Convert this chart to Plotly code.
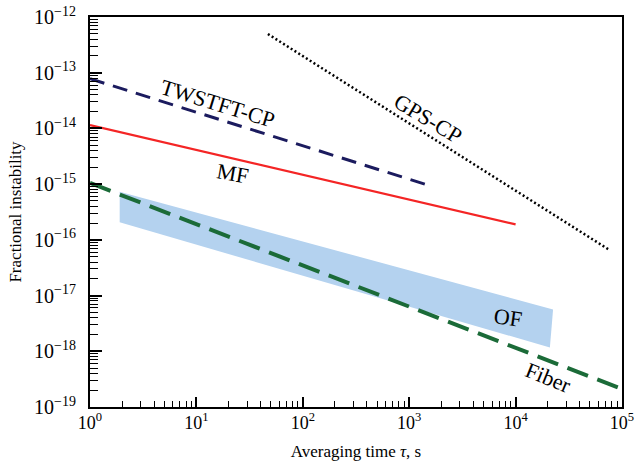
import plotly.graph_objects as go

# ---- data ----
mf_tau = [1, 1e4]
mf_sigma = [1.15e-14, 1.9e-16]

twstft_tau = [1, 1.5e3]
twstft_sigma = [7.8e-14, 9.6e-16]

gps_tau = [47, 7.6e4]
gps_sigma = [4.95e-13, 6.6e-17]

fiber_tau = [1, 1e5]
fiber_sigma = [1.05e-15, 2.1e-19]

of_tau = [1.9, 2.25e4, 2.1e4, 1.9]
of_sigma = [7.3e-16, 5.65e-18, 1.17e-18, 2.06e-16]

x_exponents = [0, 1, 2, 3, 4, 5]
y_exponents = [-19, -18, -17, -16, -15, -14, -13, -12]

label_text = ["TWSTFT-CP", "MF", "GPS-CP", "OF", "Fiber"]
label_logx = [1.203, 1.344, 3.177, 3.929, 4.305]
label_logy = [-13.544, -14.80, -13.813, -17.386, -18.463]
label_angle = [17, 10, 31, 8, 22]

FONT = "Liberation Serif, Times New Roman, serif"

def pow_label(e):
    s = str(e).replace("-", "\u2212")
    return f"10<sup>{s}</sup>"

def minor_vals(exps):
    out = []
    for e in exps[:-1]:
        for m in range(2, 10):
            out.append(m * 10.0 ** e)
    return out

fig = go.Figure()

fig.add_trace(go.Scatter(x=of_tau, y=of_sigma, fill="toself", mode="lines",
                         line=dict(width=0, color="rgba(0,0,0,0)"),
                         fillcolor="#b4d2ef", hoverinfo="skip", showlegend=False))
fig.add_trace(go.Scatter(x=fiber_tau, y=fiber_sigma, mode="lines",
                         line=dict(color="#1b6b38", width=4, dash="22px,10px"),
                         showlegend=False))
fig.add_trace(go.Scatter(x=mf_tau, y=mf_sigma, mode="lines",
                         line=dict(color="#f42525", width=2.2),
                         showlegend=False))
fig.add_trace(go.Scatter(x=twstft_tau, y=twstft_sigma, mode="lines",
                         line=dict(color="#1b1b5e", width=3, dash="15px,9px"),
                         showlegend=False))
fig.add_trace(go.Scatter(x=gps_tau, y=gps_sigma, mode="lines",
                         line=dict(color="#000000", width=2.5, dash="2px,2.5px"),
                         showlegend=False))

for t, lx, ly, a in zip(label_text, label_logx, label_logy, label_angle):
    fig.add_annotation(x=lx, y=ly, xref="x", yref="y", text=t, showarrow=False,
                       textangle=a, font=dict(family=FONT, size=22, color="black"))

axis_common = dict(
    type="log", tickmode="array", automargin=False,
    showgrid=False, zeroline=False,
    showline=True, linecolor="black", linewidth=2, mirror=True,
    ticks="inside", tickcolor="black", tickwidth=1.5,
)

fig.update_xaxes(**axis_common, range=[0, 5], ticklen=10,
                 tickvals=[10.0 ** e for e in x_exponents],
                 ticktext=[pow_label(e) for e in x_exponents],
                 tickfont=dict(family=FONT, size=18, color="black"),
                 ticklabelstandoff=-2,
                 minor=dict(ticks="inside", ticklen=6, tickwidth=1.2, tickcolor="black",
                            tickvals=minor_vals(x_exponents), showgrid=False),
                 title=dict(text="Averaging time <i>τ</i>, s", standoff=14,
                            font=dict(family=FONT, size=17, color="black")))
fig.update_yaxes(**axis_common, range=[-19, -12], ticklen=12,
                 tickvals=[10.0 ** e for e in y_exponents],
                 ticktext=[pow_label(e) for e in y_exponents],
                 tickfont=dict(family=FONT, size=20, color="black"),
                 ticklabelstandoff=8,
                 minor=dict(ticks="inside", ticklen=8, tickwidth=1.2, tickcolor="black",
                            tickvals=minor_vals(y_exponents), showgrid=False),
                 title=dict(text="Fractional instability", standoff=8,
                            font=dict(family=FONT, size=17, color="black")))

fig.update_layout(
    width=636, height=462,
    margin=dict(l=90, r=14, t=17, b=55),
    paper_bgcolor="white", plot_bgcolor="white",
    showlegend=False,
)

fig.write_html(
    "out.html",
    config={"displayModeBar": False},
    post_script="document.body.style.margin='0';document.body.style.overflow='hidden';",
)
